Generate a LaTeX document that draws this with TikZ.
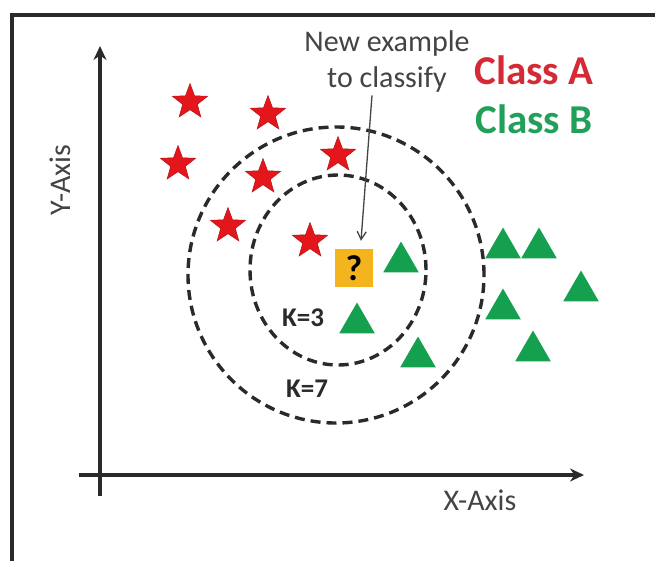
\documentclass[tikz,border=0pt]{standalone}
\usepackage{fontspec}
\setmainfont{Carlito}
\usetikzlibrary{arrows.meta, shapes.geometric}
\definecolor{starred}{HTML}{E3161B}
\definecolor{trigreen}{HTML}{14A04E}
\definecolor{qorange}{HTML}{F4B41E}
\definecolor{inkgray}{HTML}{2A2A2A}
\definecolor{notegray}{HTML}{444444}
\definecolor{classred}{HTML}{D42A36}
\definecolor{classgreen}{HTML}{22A05A}

\begin{document}
\begin{tikzpicture}[
  x=1pt, y=-1pt,
  axis/.style={-{Stealth[length=14pt, width=13pt]}, line width=3.6pt, inkgray},
  pointer/.style={-{Straight Barb[length=8pt, width=9pt]}, line width=1.3pt, notegray},
]

% =============================================
% Styles for the data points and rings
% =============================================
\tikzset{
  starpt/.style={
    star, star points=5, star point ratio=2.4, minimum size=37pt,
    inner sep=0pt, fill=starred, draw=starred!80!black, line width=0.5pt,
  },
  tript/.style={
    regular polygon, regular polygon sides=3, minimum size=41pt,
    inner sep=0pt, fill=trigreen,
  },
  kring/.style 2 args={
    ellipse, draw=inkgray, line width=3.4pt, dash pattern=on 10pt off 6pt,
    inner sep=0pt, minimum width=#1, minimum height=#2,
  },
  classlabel/.style={font=\fontsize{41}{43}\selectfont\bfseries},
  klabel/.style={font=\fontsize{27}{29}\selectfont\bfseries, text=inkgray},
  axislabel/.style={font=\fontsize{30}{32}\selectfont, text=notegray},
}

% =============================================
% Frame
% =============================================
\useasboundingbox (0,0) rectangle (655,560);
\fill[white] (0,0) rectangle (655,560);
\draw[line width=3.2pt, inkgray] (12,15) rectangle (672,582);

% =============================================
% Axes
% =============================================
\coordinate (ybot) at (100,496);
\coordinate (ytop) at (100,46);
\coordinate (xleft) at (79,475);
\coordinate (xright) at (584,475);
\draw[axis] (ybot) -- (ytop);
\draw[axis] (xleft) -- (xright);
\node[axislabel, rotate=90] (ylab) at (60,180) {Y-Axis};
\node[axislabel] (xlab) at (480,500) {X-Axis};

% =============================================
% Neighbourhood rings
% =============================================
\node[kring={296pt}{296pt}] (k7) at (336,275) {};
\node[kring={176pt}{190pt}] (k3) at (338,270) {};
\node[klabel] (k3lab) at (303,318) {K=3};
\node[klabel] (k7lab) at (307,389) {K=7};

% =============================================
% Class A: stars
% =============================================
\node[starpt] (a1) at (190,102) {};
\node[starpt] (a2) at (268,114) {};
\node[starpt] (a3) at (178,164) {};
\node[starpt] (a4) at (263,177) {};
\node[starpt] (a5) at (338,155) {};
\node[starpt] (a6) at (228,226) {};
\node[starpt] (a7) at (310,241) {};

% =============================================
% Class B: triangles
% =============================================
\node[tript] (b1) at (401,262) {};
\node[tript] (b2) at (357,323) {};
\node[tript] (b3) at (418,357) {};
\node[tript] (b4) at (503,248) {};
\node[tript] (b5) at (539,248) {};
\node[tript] (b6) at (581,291) {};
\node[tript] (b7) at (503,309) {};
\node[tript] (b8) at (533,351) {};

% =============================================
% Query point and its note
% =============================================
\node[fill=qorange, minimum size=38pt, inner sep=0pt,
      font=\fontsize{36}{36}\selectfont\bfseries] (query) at (354,268) {?};
\node[font=\fontsize{30}{36}\selectfont, text=notegray, align=center] (note) at (387,61)
  {New example\\to classify};
\draw[pointer] ([xshift=-15pt]note.south) -- ([xshift=7pt, yshift=8pt]query.north);

% =============================================
% Legend
% =============================================
\node[classlabel, text=classred] (clsA) at (534,70) {Class A};
\node[classlabel, text=classgreen] (clsB) at (534,119) {Class B};

\end{tikzpicture}
\end{document}
